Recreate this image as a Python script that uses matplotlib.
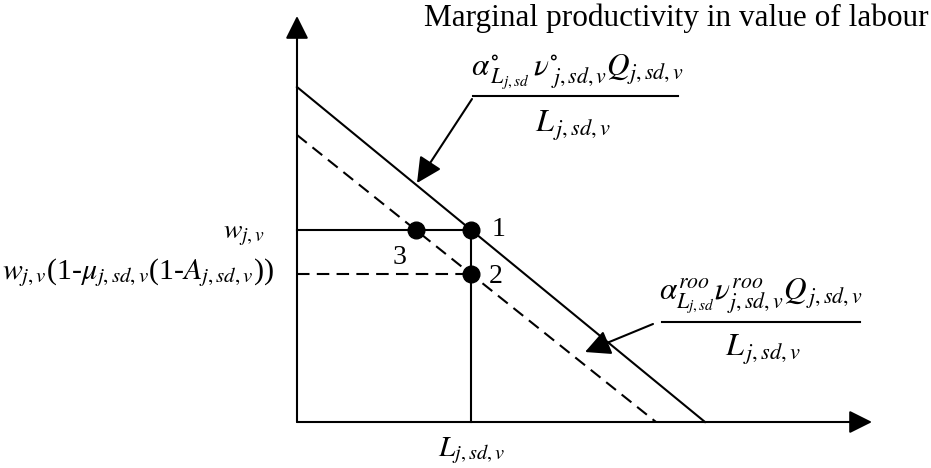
import matplotlib.pyplot as plt

plt.rcParams['font.family'] = ['Liberation Serif', 'DejaVu Serif']
plt.rcParams['mathtext.fontset'] = 'stix'

W, H = 931, 468

# geometry of the diagram (pixel-like units, y grows downward)
origin = (297, 422)
x_axis_tip = 872
y_axis_tip = 16
solid_curve = [(297, 87), (705, 422)]    # marginal productivity, base case
dashed_curve = [(297, 135), (656, 422)]  # marginal productivity, with roo
wage_level = 230


def line_x_at(curve, y):
    (x0, y0), (x1, y1) = curve
    return x0 + (y - y0) * (x1 - x0) / (y1 - y0)


def line_y_at(curve, x):
    (x0, y0), (x1, y1) = curve
    return y0 + (x - x0) * (y1 - y0) / (x1 - x0)


labour = line_x_at(solid_curve, wage_level)
wage_net = line_y_at(dashed_curve, labour)
labour_3 = line_x_at(dashed_curve, wage_level)

fig = plt.figure(figsize=(W / 100, H / 100), dpi=100)
ax = fig.add_axes([0, 0, 1, 1])
ax.set_xlim(0, W)
ax.set_ylim(H, 0)
ax.axis('off')

lw = 1.5
arrow_style = '-|>,head_length=0.7,head_width=0.35'

# axes with arrow heads
ax.annotate('', xy=(x_axis_tip, origin[1]), xytext=origin,
            arrowprops=dict(arrowstyle=arrow_style, lw=lw, color='k',
                            mutation_scale=20, shrinkA=0, shrinkB=0))
ax.annotate('', xy=(origin[0], y_axis_tip), xytext=origin,
            arrowprops=dict(arrowstyle=arrow_style, lw=lw, color='k',
                            mutation_scale=20, shrinkA=0, shrinkB=0))

# the two curves
ax.plot(*zip(*solid_curve), color='k', lw=lw)
ax.plot(*zip(*dashed_curve), color='k', lw=lw, dashes=(6, 3.5))

# wage lines and labour level
ax.plot([origin[0], labour], [wage_level, wage_level], color='k', lw=lw)
ax.plot([origin[0], labour], [wage_net, wage_net], color='k', lw=lw, dashes=(6, 3.5))
ax.plot([labour, labour], [wage_level, origin[1]], color='k', lw=lw)

# equilibrium points
ax.plot([labour, labour, labour_3], [wage_level, wage_net, wage_level],
        'o', color='k', ms=12)
ax.text(labour + 20, wage_level, '1', fontsize=20, ha='left', va='center')
ax.text(labour + 18, wage_net + 2, '2', fontsize=20, ha='left', va='center')
ax.text(labour_3 - 16, wage_level + 28, '3', fontsize=20, ha='center', va='center')

# axis labels
ax.text(265, 236, r'$w_{j,v}$', fontsize=20, ha='right', va='center')
ax.text(274, 273, r'$w_{j,v}$(1-$\mu_{j,sd,v}$(1-$A_{j,sd,v}$))', fontsize=21.5,
        ha='right', va='center')
ax.text(labour, 451, r'$L_{j,sd,v}$', fontsize=21, ha='center', va='center')

ax.text(929, 18, 'Marginal productivity in value of labour', fontsize=22.5,
        ha='right', va='center')

# fraction for the solid curve
ax.text(577, 72, r'$\alpha^{\circ}_{\,L_{j,sd}}\,\nu^{\circ}_{\ j,sd,v}Q_{j,sd,v}$',
        fontsize=22.5, ha='center', va='center')
ax.plot([473, 678], [96, 96], color='k', lw=lw)
ax.text(573, 126, r'$L_{\,j,sd,v}$', fontsize=23, ha='center', va='center')
ax.annotate('', xy=(417, 183), xytext=(472, 99),
            arrowprops=dict(arrowstyle=arrow_style, lw=lw, color='k',
                            mutation_scale=22, shrinkA=0, shrinkB=0))

# fraction for the dashed curve
ax.text(761, 297, r'$\alpha^{roo}_{L_{j,sd}}\nu^{roo}_{j,sd,v}Q_{\,j,sd,v}$',
        fontsize=22.5, ha='center', va='center')
ax.plot([662, 860], [322, 322], color='k', lw=lw)
ax.text(763, 350, r'$L_{\,j,sd,v}$', fontsize=23, ha='center', va='center')
ax.annotate('', xy=(585, 352), xytext=(653, 324),
            arrowprops=dict(arrowstyle=arrow_style, lw=lw, color='k',
                            mutation_scale=22, shrinkA=0, shrinkB=0))

fig.savefig('out.png', dpi=100)
